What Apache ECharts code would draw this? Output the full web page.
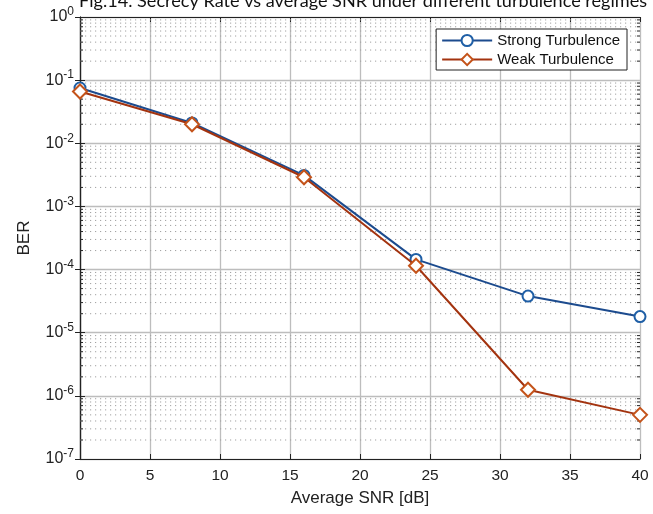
<!DOCTYPE html>
<html><head><meta charset="utf-8">
<script src="https://cdn.jsdelivr.net/npm/echarts@6/dist/echarts.min.js"></script>
<style>html,body{margin:0;padding:0;background:#fff}#c{width:653px;height:514px}</style>
</head><body><div id="c"></div>
<script>
const snr = [0, 8, 16, 24, 32, 40];
const strong = [0.075, 0.021, 0.0031, 1.45e-4, 3.8e-5, 1.8e-5];
const weak = [0.066, 0.020, 0.0029, 1.15e-4, 1.25e-6, 5.0e-7];
const xTicks = [0, 5, 10, 15, 20, 25, 30, 35, 40];
const titleText = 'Fig.14. Secrecy Rate vs average SNR under different turbulence regimes';

const minorVals = [];
for (let d = -7; d <= -1; d++) for (let m = 2; m <= 9; m++) minorVals.push(m * Math.pow(10, d));

const chart = echarts.init(document.getElementById('c'), null, {renderer: 'canvas'});
const fontA = 'Liberation Sans, Arial, sans-serif';
const supFmt = v => {
  const e = Math.round(Math.log10(v));
  return '{b|10}{s|' + e + '}';
};
chart.setOption({
  animation: false,
  title: {
    text: titleText, left: 74, top: -13,
    textStyle: {fontFamily: 'Lato, Open Sans, sans-serif', fontSize: 18.1, fontWeight: 'normal', color: '#111'}
  },
  legend: {
    right: 26, top: 29, orient: 'vertical',
    backgroundColor: '#fff', borderColor: '#222', borderWidth: 1, borderRadius: 0,
    padding: [4, 7, 3, 5], itemGap: 4, itemWidth: 50, itemHeight: 14,
    textStyle: {fontFamily: fontA, fontSize: 15, color: '#111'},
    data: ['Strong Turbulence', 'Weak Turbulence']
  },
  grid: {left: 80, right: 13, top: 17, bottom: 55},
  xAxis: [{
    type: 'value', min: 0, max: 40, interval: 5,
    name: 'Average SNR [dB]', nameLocation: 'middle', nameGap: 31,
    nameTextStyle: {fontFamily: fontA, fontSize: 17, color: '#222'},
    axisLine: {show: true, lineStyle: {color: '#222', width: 1.2}},
    axisTick: {show: true, inside: true, length: 5, lineStyle: {color: '#222'}},
    axisLabel: {fontFamily: fontA, fontSize: 15.5, color: '#222', margin: 9,
      formatter: v => xTicks.indexOf(v) >= 0 ? String(v) : ''},
    splitLine: {show: true, lineStyle: {color: '#bdbdbd', width: 1.3}}
  }, {
    type: 'value', min: 0, max: 40, interval: 5, position: 'top',
    axisLine: {show: true, lineStyle: {color: '#222', width: 1.2}},
    axisTick: {show: true, inside: true, length: 5, lineStyle: {color: '#222'}},
    axisLabel: {show: false}, splitLine: {show: false}
  }],
  yAxis: [{
    type: 'log', logBase: 10, min: 1e-7, max: 1,
    name: 'BER', nameLocation: 'middle', nameGap: 47, nameRotate: 90,
    nameTextStyle: {fontFamily: fontA, fontSize: 17, color: '#222'},
    axisLine: {show: true, lineStyle: {color: '#222', width: 1.2}},
    axisTick: {show: true, inside: true, length: 5, lineStyle: {color: '#222'}},
    axisLabel: {fontFamily: fontA, color: '#222', margin: 6, formatter: supFmt,
      rich: {b: {fontFamily: fontA, fontSize: 16, color: '#222'},
             s: {fontFamily: fontA, fontSize: 12, color: '#222', padding: [0, 0, 10, 0]}}},
    splitLine: {show: true, lineStyle: {color: '#bdbdbd', width: 1.3}}
  }, {
    type: 'log', logBase: 10, min: 1e-7, max: 1, position: 'right',
    axisLine: {show: true, lineStyle: {color: '#222', width: 1.2}},
    axisTick: {show: true, inside: true, length: 5, lineStyle: {color: '#222'}},
    axisLabel: {show: false}, splitLine: {show: false}
  }],
  series: [{
    type: 'custom', silent: true, z: 1,
    xAxisIndex: 0, yAxisIndex: 0,
    data: minorVals.map(v => [0, v]),
    encode: {x: 0, y: 1},
    renderItem: (params, api) => {
      const v = api.value(1);
      const p0 = api.coord([0, v]);
      const p1 = api.coord([40, v]);
      return {
        type: 'group',
        children: [
          {type: 'line', shape: {x1: p0[0], y1: p0[1], x2: p1[0], y2: p1[1]},
           style: {stroke: '#a0a0a0', lineWidth: 1, lineDash: [1.2, 3.8]}},
          {type: 'line', shape: {x1: p0[0], y1: p0[1], x2: p0[0] + 3, y2: p0[1]},
           style: {stroke: '#222', lineWidth: 1}},
          {type: 'line', shape: {x1: p1[0] - 3, y1: p1[1], x2: p1[0], y2: p1[1]},
           style: {stroke: '#222', lineWidth: 1}}
        ]
      };
    }
  }, {
    name: 'Strong Turbulence', type: 'line',
    data: snr.map((x, i) => [x, strong[i]]),
    symbol: 'emptyCircle', symbolSize: 11, z: 3,
    lineStyle: {color: '#1c4b8e', width: 2},
    itemStyle: {color: '#1f5fa6', borderColor: '#1f5fa6', borderWidth: 2.2}
  }, {
    name: 'Weak Turbulence', type: 'line',
    data: snr.map((x, i) => [x, weak[i]]),
    symbol: 'emptyDiamond', symbolSize: 14, z: 4,
    lineStyle: {color: '#a3330f', width: 2},
    itemStyle: {color: '#c4531a', borderColor: '#c4531a', borderWidth: 2.2}
  }]
});
</script></body></html>
